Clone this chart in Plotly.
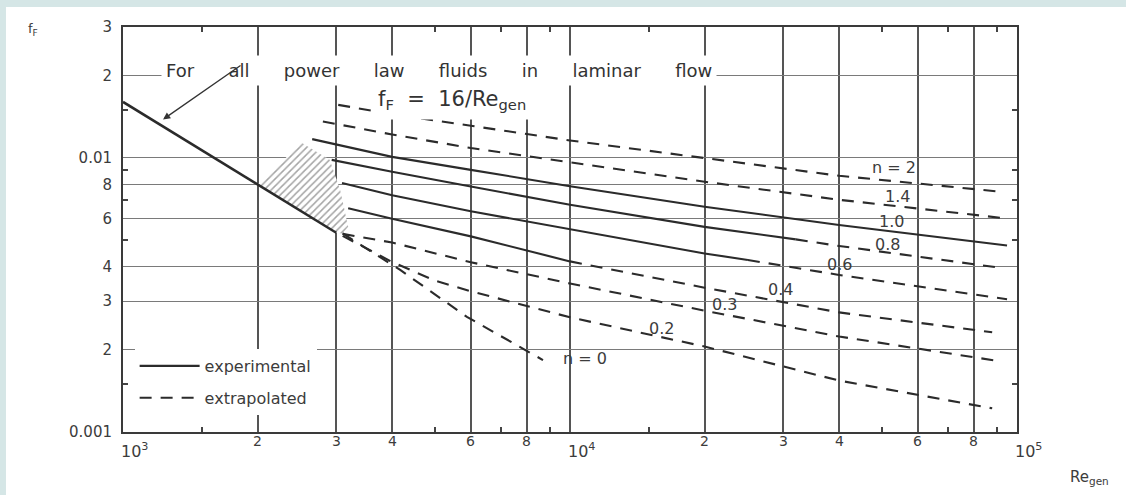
import numpy as np
import plotly.graph_objects as go

FONT = "DejaVu Sans"
INK = "#2b2b2b"
TXT = "#3c3c3c"

# ---------------- data ----------------
# laminar line f = 16/Re
lam_re = [1000, 2000, 3000]
lam_f = [0.016, 0.008, 0.00533]

# hatched transition zone
hatch_re = [2000, 2510, 2900, 3060, 3190, 3100, 3000, 2000]
hatch_f = [0.008, 0.01134, 0.00983, 0.00764, 0.0056, 0.0053, 0.00533, 0.008]

# n = 2 (extrapolated)
n20_dash_re = [3030, 4000, 6000, 10000, 20000, 40000, 93000]
n20_dash_f = [0.0156, 0.01443, 0.01309, 0.01157, 0.00998, 0.0086, 0.00751]
# n = 1.4 (extrapolated)
n14_dash_re = [2800, 3000, 4000, 6000, 10000, 20000, 40000, 93000]
n14_dash_f = [0.01357, 0.01329, 0.01216, 0.01086, 0.00964, 0.00818, 0.00703, 0.00603]
# n = 1.0 (experimental)
n10_solid_re = [2650, 3000, 4000, 6000, 10000, 20000, 40000, 95000]
n10_solid_f = [0.0117, 0.01118, 0.01008, 0.00904, 0.00788, 0.00663, 0.00569, 0.00479]
# n = 0.8
n08_solid_re = [2930, 4000, 6000, 10000, 20000, 32000]
n08_solid_f = [0.00983, 0.00889, 0.00786, 0.00674, 0.0056, 0.00504]
n08_dash_re = [32000, 40000, 93000]
n08_dash_f = [0.00504, 0.00477, 0.00396]
# n = 0.6
n06_solid_re = [3090, 4000, 6000, 10000, 20000, 25000]
n06_solid_f = [0.00809, 0.0073, 0.00638, 0.00548, 0.00448, 0.00424]
n06_dash_re = [25000, 40000, 95000]
n06_dash_f = [0.00424, 0.00374, 0.00305]
# n = 0.4
n04_solid_re = [3190, 4000, 6000, 10000]
n04_solid_f = [0.00655, 0.00599, 0.00517, 0.00419]
n04_dash_re = [10000, 20000, 40000, 88000]
n04_dash_f = [0.00419, 0.00336, 0.00273, 0.00231]
# n = 0.3 (extrapolated)
n03_dash_re = [3100, 4000, 6000, 10000, 20000, 40000, 90000]
n03_dash_f = [0.00528, 0.00491, 0.00416, 0.00348, 0.00277, 0.00223, 0.00182]
# n = 0.2 (extrapolated)
n02_dash_re = [3100, 4000, 5000, 6000, 10000, 20000, 40000, 88000]
n02_dash_f = [0.00519, 0.00417, 0.00356, 0.00326, 0.00262, 0.00205, 0.00154, 0.00122]
# n = 0 (extrapolated)
n00_dash_re = [3100, 4170, 5880, 8700]
n00_dash_f = [0.0053, 0.0039, 0.00263, 0.00183]

# curve labels
label_text = ["n = 2", "1.4", "1.0", "0.8", "0.6", "0.4", "0.3", "0.2", "n = 0"]
label_re = [53000, 53900, 52300, 51200, 40000, 29600, 22200, 16000, 10800]
label_f = [0.00919, 0.00721, 0.00584, 0.00481, 0.00407, 0.0033, 0.00291, 0.00238, 0.00185]

# axes ticks
x_grid = [2000, 3000, 4000, 6000, 8000, 10000, 20000, 30000, 40000, 60000, 80000]
x_minor = [1500, 5000, 7000, 9000, 15000, 50000, 70000, 90000]
x_digit_vals = [2000, 3000, 4000, 6000, 8000, 20000, 30000, 40000, 60000, 80000]
x_digit_text = ["2", "3", "4", "6", "8", "2", "3", "4", "6", "8"]
x_decades = [1000, 10000, 100000]
x_decade_text = ["10<sup>3</sup>", "10<sup>4</sup>", "10<sup>5</sup>"]
y_vals = [0.001, 0.002, 0.003, 0.004, 0.006, 0.008, 0.01, 0.02, 0.03]
y_text = ["0.001", "2", "3", "4", "6", "8", "0.01", "2", "3"]
y_minor = [0.0015, 0.005, 0.007, 0.009, 0.015]

# ---------------- figure ----------------
fig = go.Figure()

fig.add_trace(go.Scatter(
    x=hatch_re, y=hatch_f, mode="lines", fill="toself",
    line=dict(width=0, color="rgba(0,0,0,0)"),
    fillcolor="white",
    fillpattern=dict(shape="/", fgcolor="#4a4a4a", bgcolor="white", size=5, solidity=0.3),
    showlegend=False, hoverinfo="skip"))

fig.add_trace(go.Scatter(x=lam_re, y=lam_f, mode="lines",
                         line=dict(color=INK, width=2.6), showlegend=False))

solid_sets = [(n10_solid_re, n10_solid_f), (n08_solid_re, n08_solid_f),
              (n06_solid_re, n06_solid_f), (n04_solid_re, n04_solid_f)]
dash_sets = [(n20_dash_re, n20_dash_f), (n14_dash_re, n14_dash_f),
             (n08_dash_re, n08_dash_f), (n06_dash_re, n06_dash_f),
             (n04_dash_re, n04_dash_f), (n03_dash_re, n03_dash_f),
             (n02_dash_re, n02_dash_f), (n00_dash_re, n00_dash_f)]

for i, (rx, fy) in enumerate(solid_sets):
    fig.add_trace(go.Scatter(x=rx, y=fy, mode="lines", name="experimental",
                             legendgroup="exp", showlegend=(i == 0), legendrank=1,
                             line=dict(color=INK, width=2.1)))
for i, (rx, fy) in enumerate(dash_sets):
    fig.add_trace(go.Scatter(x=rx, y=fy, mode="lines", name="extrapolated",
                             legendgroup="ext", showlegend=(i == 0), legendrank=2,
                             line=dict(color=INK, width=2.1, dash="12px,9px")))

annotations = []
shapes = []

# white page area with teal border on top/left
shapes.append(dict(type="rect", xref="paper", yref="paper", x0=-0.1309, x1=1.2,
                   y0=-0.2, y1=1.0494, fillcolor="white", line_width=0, layer="below"))

# curve labels (with gaps cut into the grid)
for t, rx, fy in zip(label_text, label_re, label_f):
    annotations.append(dict(x=np.log10(rx), y=np.log10(fy), xref="x", yref="y",
                            text=t, showarrow=False,
                            font=dict(family=FONT, size=16, color=TXT)))
    w = len(t) * 9.5 + 8
    shapes.append(dict(type="rect", layer="between", xref="x", yref="y",
                       xsizemode="pixel", ysizemode="pixel",
                       xanchor=np.log10(rx), yanchor=np.log10(fy),
                       x0=-w / 2, x1=w / 2, y0=-8, y1=8,
                       fillcolor="white", line_width=0))

# x tick labels
for v, t in zip(x_digit_vals, x_digit_text):
    annotations.append(dict(x=np.log10(v), y=-0.022, xref="x", yref="paper",
                            text=t, showarrow=False, yanchor="middle",
                            font=dict(family=FONT, size=14, color=TXT)))
for v, t in zip(x_decades, x_decade_text):
    annotations.append(dict(x=np.log10(v), y=-0.046, xref="x", yref="paper", xshift=11,
                            text=t, showarrow=False, yanchor="middle",
                            font=dict(family=FONT, size=16, color=TXT)))

# titles and notes
annotations.append(dict(x=-0.108, y=1.02, xref="paper", yref="paper",
                        text="f<sub>F</sub>", showarrow=False,
                        font=dict(family=FONT, size=13, color=TXT)))
annotations.append(dict(x=1.105, y=-0.14, xref="paper", yref="paper",
                        text="Re<sub>gen</sub>", showarrow=False,
                        font=dict(family=FONT, size=15, color=TXT)))
sp = "\u00a0" * 6
annotations.append(dict(x=0.3535, y=0.9309, xref="paper", yref="paper",
                        text=sp.join(["For", "all", "power", "law", "fluids", "in", "laminar", "flow"]),
                        showarrow=False, bgcolor="white", borderpad=4,
                        font=dict(family=FONT, size=18, color="#333")))
annotations.append(dict(x=0.368, y=0.869, xref="paper", yref="paper",
                        text="f<sub>F</sub>\u00a0\u00a0=\u00a0\u00a016/Re<sub>gen</sub>",
                        showarrow=False, bgcolor="white", borderpad=6,
                        font=dict(family=FONT, size=21, color="#333")))
annotations.append(dict(x=np.log10(1229), y=np.log10(0.0138), xref="x", yref="y",
                        text="", showarrow=True, ax=79, ay=-55,
                        arrowhead=2, arrowsize=1.1, arrowwidth=1.3, arrowcolor="#333"))

axis_common = dict(type="log", showline=True, linewidth=2, linecolor="#3a3a3a",
                   mirror="ticks", ticks="", zeroline=False)

fig.update_layout(
    width=1126, height=495, autosize=False,
    margin=dict(l=123, r=109, t=27, b=63),
    paper_bgcolor="#d5e6e6", plot_bgcolor="white",
    font=dict(family=FONT, color=TXT),
    xaxis=dict(range=[3, 5], tickmode="array", tickvals=x_grid, showticklabels=False,
               showgrid=True, gridcolor="#555", gridwidth=1.6,
               minor=dict(tickmode="array", tickvals=x_minor, ticks="inside", ticklen=5,
                          tickcolor="#444", tickwidth=1.5, showgrid=False),
               **axis_common),
    yaxis=dict(range=[-3, np.log10(0.03)], tickmode="array", tickvals=y_vals, ticktext=y_text,
               tickfont=dict(family=FONT, size=15, color=TXT), ticklabelstandoff=6,
               showgrid=True, gridcolor="#7a7a7a", gridwidth=1.1,
               minor=dict(tickmode="array", tickvals=y_minor, ticks="inside", ticklen=5,
                          tickcolor="#444", tickwidth=1.5, showgrid=False),
               **axis_common),
    showlegend=True,
    legend=dict(x=0.013, y=0.205, xanchor="left", yanchor="top", bgcolor="white",
                font=dict(family=FONT, size=16, color=TXT), traceorder="grouped",
                tracegroupgap=8, itemwidth=60),
    annotations=annotations,
    shapes=shapes,
)

fig.write_html("out.html", config={"displayModeBar": False},
               post_script="document.body.style.margin='0';")
